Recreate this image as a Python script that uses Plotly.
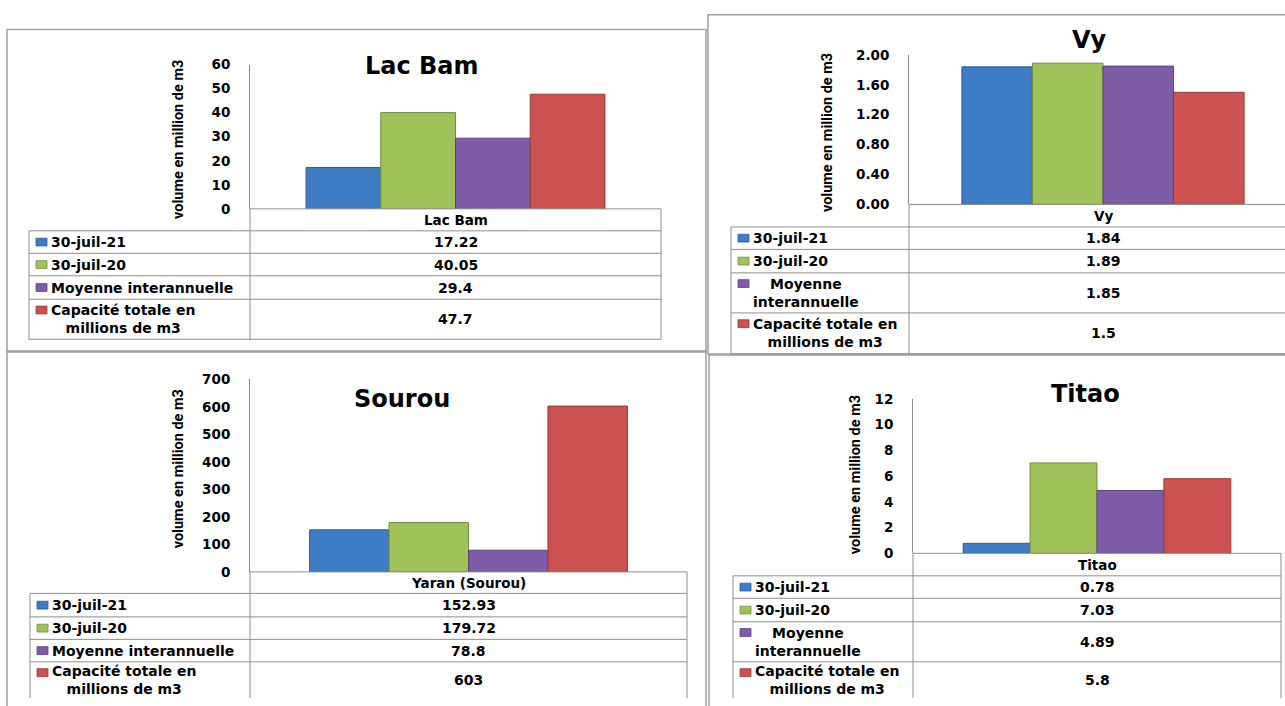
import textwrap
import plotly.graph_objects as go

W, H = 1285, 706

# ---------------- data ----------------
reservoirs = ["Lac Bam", "Vy", "Yaran (Sourou)", "Titao"]
chart_titles = ["Lac Bam", "Vy", "Sourou", "Titao"]
series_names = ["30-juil-21", "30-juil-20", "Moyenne interannuelle",
                "Capacité totale en millions de m3"]
vol_30_juil_21 = [17.22, 1.84, 152.93, 0.78]
vol_30_juil_20 = [40.05, 1.89, 179.72, 7.03]
moyenne_interannuelle = [29.4, 1.85, 78.8, 4.89]
capacite_totale = [47.7, 1.5, 603, 5.8]
lac_bam_ticks = [0, 10, 20, 30, 40, 50, 60]
vy_ticks = [0.0, 0.4, 0.8, 1.2, 1.6, 2.0]
sourou_ticks = [0, 100, 200, 300, 400, 500, 600, 700]
titao_ticks = [0, 2, 4, 6, 8, 10, 12]
tick_formats = ["{:d}", "{:.2f}", "{:d}", "{:d}"]
y_title = "volume en million de m3"

series_values = [vol_30_juil_21, vol_30_juil_20, moyenne_interannuelle, capacite_totale]
all_ticks = [lac_bam_ticks, vy_ticks, sourou_ticks, titao_ticks]

# ---------------- style / layout ----------------
colors = ["#3E7CC6", "#9FC25A", "#7F5CA8", "#CB5250"]
edge_colors = ["#2B5C96", "#738F3C", "#5B4179", "#963A38"]
axis_grey = "#8C8C8C"
grid_grey = "#8E8E8E"
frame_grey = "#A0A0A0"

panels = [
    dict(plot_x=(250, 661), plot_y=(58, 205.5), tbl_left=29, tbl_div=250, tbl_right=661,
         header_h=22.5, row_h=[23, 23, 24, 41], wrap=22, title_xy=(422, 59),
         ytitle_xy=(179, 135), frame=(7, 22, 706, 352)),
    dict(plot_x=(909, 1297), plot_y=(48, 201), tbl_left=731, tbl_div=909, tbl_right=1297,
         header_h=23, row_h=[23, 24, 41, 42], wrap=18, title_xy=(1089, 33),
         ytitle_xy=(827, 128), frame=(708, 7, 1300, 354)),
    dict(plot_x=(250, 687), plot_y=(380, 577), tbl_left=30, tbl_div=250, tbl_right=687,
         header_h=22, row_h=[24, 23, 23, 37], wrap=22, title_xy=(402, 400),
         ytitle_xy=(178, 472), frame=(7, 351, 706, 720)),
    dict(plot_x=(913, 1281), plot_y=(400, 558), tbl_left=733, tbl_div=913, tbl_right=1281,
         header_h=23, row_h=[23, 24, 41, 37], wrap=18, title_xy=(1085, 395),
         ytitle_xy=(855, 478), frame=(709, 355, 1300, 720)),
]

tick_font = dict(family="DejaVu Sans", size=13.5, color="black", weight="bold")
cell_font = dict(family="DejaVu Sans", size=14, color="black", weight="bold")
header_font = dict(family="DejaVu Sans", size=13.5, color="black", weight="bold")
title_font = dict(family="DejaVu Sans", size=24, color="black", weight="bold")
ytitle_font = dict(family="Roboto", size=14.5, color="black", weight="bold")


def px(x):
    return x / W


def py(y):
    return 1 - y / H


fig = go.Figure()
shapes = []
annotations = []
axes = {}

for i, p in enumerate(panels):
    n = i + 1
    xa = "x" if n == 1 else f"x{n}"
    ya = "y" if n == 1 else f"y{n}"
    for s in range(len(series_names)):
        fig.add_trace(go.Bar(
            x=[reservoirs[i]], y=[series_values[s][i]], name=series_names[s],
            marker=dict(color=colors[s], line=dict(color=edge_colors[s], width=1)),
            xaxis=xa, yaxis=ya, showlegend=False,
        ))
    a, b_true = p["plot_x"]
    b = min(b_true, W)
    ticks = all_ticks[i]
    axes["xaxis" if n == 1 else f"xaxis{n}"] = dict(
        domain=[px(a), px(b)], anchor=ya, type="category",
        range=[-0.5, -0.5 + (b - a) / (b_true - a)],
        showticklabels=False, showline=False, showgrid=False, zeroline=False,
        ticks="", fixedrange=True)
    axes["yaxis" if n == 1 else f"yaxis{n}"] = dict(
        domain=[py(p["plot_y"][1]), py(p["plot_y"][0])], anchor=xa,
        range=[0, ticks[-1]], tickmode="array", tickvals=ticks,
        ticktext=[tick_formats[i].format(t) for t in ticks],
        showline=True, linecolor=axis_grey, linewidth=1,
        ticks="outside", ticklen=16, tickcolor="rgba(0,0,0,0)",
        tickfont=tick_font, showgrid=False, zeroline=False, fixedrange=True)

    # titles
    annotations.append(dict(xref="paper", yref="paper", x=px(p["title_xy"][0]),
                            y=py(p["title_xy"][1]), xanchor="center", yanchor="middle",
                            text=chart_titles[i], showarrow=False, font=title_font))
    annotations.append(dict(xref="paper", yref="paper", x=px(p["ytitle_xy"][0]),
                            y=py(p["ytitle_xy"][1]), xanchor="center", yanchor="middle",
                            text=y_title, textangle=-90, showarrow=False, font=ytitle_font))

    # frame
    fx0, fy0, fx1, fy1 = p["frame"]
    shapes.append(dict(type="rect", xref="paper", yref="paper", x0=px(fx0), x1=px(fx1),
                       y0=py(fy1), y1=py(fy0), line=dict(color=frame_grey, width=1.5),
                       layer="below"))

    # ---------- data table (own axes, px units) ----------
    m = n + 4
    txa, tya = f"x{m}", f"y{m}"
    top = p["plot_y"][1]
    rows = [p["header_h"]] + p["row_h"]
    bounds = [0]
    for r in rows:
        bounds.append(bounds[-1] + r)
    total = bounds[-1]
    left, div, right = p["tbl_left"], p["tbl_div"], p["tbl_right"]
    tw = right - left
    cw = div - left
    dx0, dx1 = max(0, left - 3), min(W, right + 3)
    dy0, dy1 = max(0, top - 3), min(H, top + total + 3)
    axes[f"xaxis{m}"] = dict(domain=[px(dx0), px(dx1)], range=[dx0 - left, dx1 - left],
                             anchor=tya, visible=False, fixedrange=True)
    axes[f"yaxis{m}"] = dict(domain=[py(dy1), py(dy0)], range=[dy1 - top, dy0 - top],
                             anchor=txa, visible=False, fixedrange=True)

    def hline(y, x0, x1):
        if top + y < H - 0.5:
            shapes.append(dict(type="line", xref=txa, yref=tya, x0=x0, x1=x1, y0=y, y1=y,
                               line=dict(color=grid_grey, width=1)))

    def vline(x, y0, y1):
        if left + x < W - 0.5:
            shapes.append(dict(type="line", xref=txa, yref=tya, x0=x, x1=x, y0=y0, y1=y1,
                               line=dict(color=grid_grey, width=1)))

    hline(0, cw, tw)
    for yb in bounds[1:]:
        hline(yb, 0, tw)
    vline(0, bounds[1], total)
    vline(cw, 0, total)
    vline(tw, 0, total)

    # header (category)
    annotations.append(dict(xref=txa, yref=tya, x=(cw + tw) / 2, y=bounds[1] / 2,
                            xanchor="center", yanchor="middle", text=reservoirs[i],
                            showarrow=False, font=header_font))
    for s in range(len(series_names)):
        y0, y1 = bounds[s + 1], bounds[s + 2]
        yc = (y0 + y1) / 2
        lines = textwrap.wrap(series_names[s], width=p["wrap"], break_on_hyphens=False)
        annotations.append(dict(xref=txa, yref=tya, x=20, y=yc, xanchor="left",
                                yanchor="middle", align="center", text="<br>".join(lines),
                                showarrow=False, font=cell_font))
        sq_y = yc if len(lines) == 1 else y0 + 11
        shapes.append(dict(type="rect", xref=txa, yref=tya, x0=7, x1=18,
                           y0=sq_y - 4, y1=sq_y + 4, fillcolor=colors[s],
                           line=dict(color=edge_colors[s], width=0.8)))
        annotations.append(dict(xref=txa, yref=tya, x=(cw + tw) / 2, y=yc,
                                xanchor="center", yanchor="middle",
                                text=str(series_values[s][i]), showarrow=False,
                                font=cell_font))

fig.update_layout(
    width=W, height=H, autosize=False,
    margin=dict(l=0, r=0, t=0, b=0, pad=0),
    paper_bgcolor="white", plot_bgcolor="rgba(0,0,0,0)",
    barmode="group", bargap=0.2727, bargroupgap=0,
    showlegend=False, shapes=shapes, annotations=annotations,
    **axes,
)

page_fix = ("document.documentElement.style.margin='0';"
            "document.body.style.margin='0';document.body.style.padding='0';"
            "document.body.style.overflow='hidden';"
            "var gd=document.getElementById('{plot_id}');"
            "gd.style.position='absolute';gd.style.left='0px';gd.style.top='0px';")
fig.write_html("out.html", post_script=page_fix, config={"displayModeBar": False})
